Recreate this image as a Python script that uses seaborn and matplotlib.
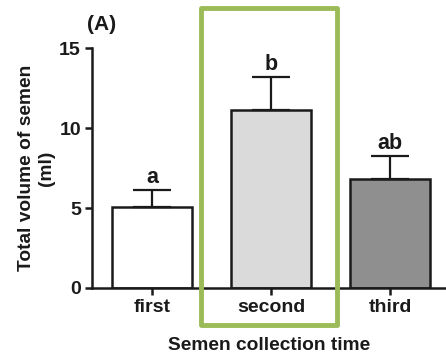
import matplotlib
matplotlib.use("Agg")
import matplotlib.pyplot as plt
import seaborn as sns
import pandas as pd
from matplotlib.patches import Rectangle

categories = ["first", "second", "third"]
values = [5.05, 11.15, 6.8]
errors = [1.1, 2.05, 1.45]
letters = ["a", "b", "ab"]
colors = ["#ffffff", "#dadada", "#8f8f8f"]
yticks = [0, 5, 10, 15]

sns.set_style("ticks")
plt.rcParams['font.family'] = ['Liberation Sans', 'DejaVu Sans']
plt.rcParams['font.weight'] = 'bold'
plt.rcParams['text.color'] = '#1a1a1a'

fig = plt.figure(figsize=(4.46, 3.54), dpi=100)
ax = fig.add_axes([92/446, 1-288/354, 1-92/446, (288-48)/354])

df = pd.DataFrame({"time": categories, "vol": values})
sns.barplot(data=df, x="time", y="vol", hue="time", palette=colors, legend=False,
            edgecolor="#1a1a1a", linewidth=1.8, width=0.67, errorbar=None, ax=ax)
ax.errorbar(range(len(values)), values, yerr=[[0]*len(values), errors], fmt="none",
            ecolor="#1a1a1a", elinewidth=1.6, capsize=14, capthick=1.6, zorder=1)
for i, (v, e, t) in enumerate(zip(values, errors, letters)):
    ax.text(i, v + e + 0.12, t, ha="center", va="bottom", fontsize=15.5, fontweight="bold")

ax.set_ylim(0, 15)
ax.set_xlim(-0.504, 2.47)
ax.set_yticks(yticks)
ax.spines["top"].set_visible(False)
ax.spines["right"].set_visible(False)
for s in ["left", "bottom"]:
    ax.spines[s].set_linewidth(1.8)
    ax.spines[s].set_color("#1a1a1a")
ax.tick_params(axis="both", width=1.8, length=5, color="#1a1a1a", labelsize=14,
               labelcolor="#1a1a1a", pad=3)
for lab in ax.get_xticklabels() + ax.get_yticklabels():
    lab.set_fontweight("bold")
ax.set_xlabel("Semen collection time", fontsize=13.8, fontweight="bold", labelpad=15,
              color="#1a1a1a")
ax.set_ylabel("Total volume of semen\n(ml)", fontsize=13.8, fontweight="bold", labelpad=3,
              color="#1a1a1a")

fig.text(102/446, 1-25/354, "(A)", ha="center", va="center", fontsize=15, fontweight="bold")
fig.patches.append(Rectangle((201/446, 1-325/354), (337-201)/446, (325-8)/354,
                             transform=fig.transFigure, fill=False, edgecolor="#9bbb59",
                             linewidth=3.5, joinstyle="round", zorder=5))

fig.savefig("out.png", dpi=100)
